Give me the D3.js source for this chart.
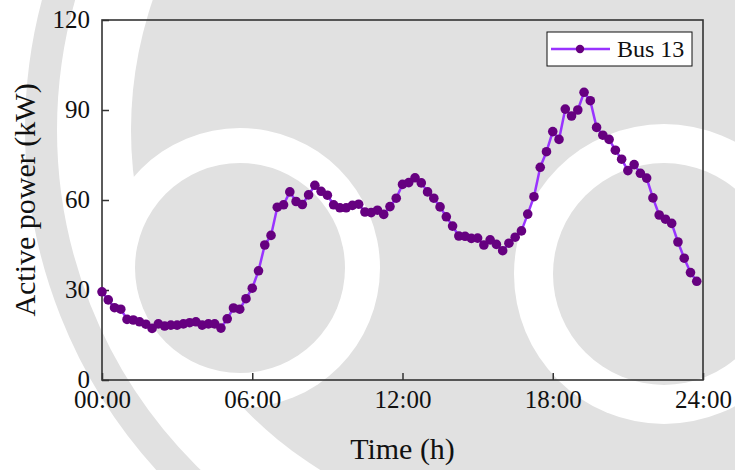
<!DOCTYPE html>
<html>
<head>
<meta charset="utf-8">
<script src="https://cdn.jsdelivr.net/npm/d3@7"></script>
<style>
  html, body { margin: 0; padding: 0; background: #fff; }
  svg { display: block; }
</style>
</head>
<body>
<svg id="chart" width="735" height="470"></svg>
<script>
// 15-minute samples of active power at bus 13 over one day
const seriesName = "Bus 13";
const stepHours = 0.25;
const busPower = [
  29.4, 26.7, 24.1, 23.6, 20.2, 20.0, 19.4, 18.6,
  17.2, 18.7, 18.0, 18.3, 18.3, 18.7, 19.1, 19.4,
  18.3, 18.7, 18.7, 17.3, 20.4, 24.0, 23.6, 27.1,
  30.6, 36.4, 45.0, 48.2, 57.6, 58.4, 62.7, 59.5,
  58.5, 61.7, 64.9, 62.9, 61.6, 58.4, 57.4, 57.4,
  58.2, 58.6, 56.0, 55.8, 56.6, 55.2, 57.8, 60.6,
  65.2, 65.8, 67.4, 65.7, 62.7, 60.6, 57.7, 54.4,
  51.3, 48.0, 47.9, 47.2, 47.3, 45.0, 46.7, 45.2,
  43.1, 45.6, 47.6, 49.7, 55.3, 61.1, 70.9, 76.1,
  82.8, 80.2, 90.3, 88.0, 90.0, 95.9, 93.1, 84.2,
  81.6, 80.2, 76.6, 73.6, 69.8, 71.8, 68.9, 67.3,
  60.7, 55.0, 53.6, 52.2, 46.0, 40.6, 35.8, 32.9
];
const xTickHours = [0, 6, 12, 18, 24];
const xTickLabels = ["00:00", "06:00", "12:00", "18:00", "24:00"];
const yTicks = [0, 30, 60, 90, 120];
const xTitle = "Time (h)";
const yTitle = "Active power (kW)";

const W = 735, H = 470;
const margin = { top: 20, right: 32, bottom: 90, left: 102 };
const FONT = "'Liberation Serif', 'Times New Roman', serif";
const LINE_COLOR = "#9933ff";
const MARK_COLOR = "#660080";
const AXIS_COLOR = "#333";

const svg = d3.select("#chart");

// faint background emblem behind the chart
const bg = svg.append("g").attr("class", "emblem");
const GRAY = "#e1e1e1";
bg.append("rect").attr("width", W).attr("height", H).attr("fill", "#fff");
bg.append("circle").attr("cx", 531).attr("cy", 130).attr("r", 490)
  .attr("fill", "none").attr("stroke", GRAY).attr("stroke-width", 32);
bg.append("circle").attr("cx", 531).attr("cy", 130).attr("r", 400).attr("fill", GRAY);
bg.append("circle").attr("cx", 240).attr("cy", 268).attr("r", 140).attr("fill", "#fff");
bg.append("circle").attr("cx", 240).attr("cy", 268).attr("r", 105).attr("fill", GRAY);
bg.append("circle").attr("cx", 664).attr("cy", 274).attr("r", 150).attr("fill", "#fff");
bg.append("circle").attr("cx", 664).attr("cy", 274).attr("r", 111).attr("fill", GRAY);

const x = d3.scaleLinear().domain([0, 24]).range([margin.left, W - margin.right]);
const y = d3.scaleLinear().domain([0, 120]).range([H - margin.bottom, margin.top]);

const points = busPower.map((v, i) => ({ t: i * stepHours, v }));

// axes with inward ticks
const xAxis = d3.axisBottom(x)
  .tickValues(xTickHours)
  .tickFormat((d, i) => xTickLabels[i])
  .tickSizeInner(-7).tickSizeOuter(0).tickPadding(10);
const yAxis = d3.axisLeft(y)
  .tickValues(yTicks)
  .tickFormat(d3.format("d"))
  .tickSizeInner(-7).tickSizeOuter(0).tickPadding(12);

const gx = svg.append("g")
  .attr("transform", `translate(0,${H - margin.bottom})`)
  .call(xAxis);
const gy = svg.append("g")
  .attr("transform", `translate(${margin.left},0)`)
  .call(yAxis);

[gx, gy].forEach(g => {
  g.select(".domain").remove();
  g.selectAll(".tick line").attr("stroke", AXIS_COLOR).attr("stroke-width", 1.5);
  g.selectAll(".tick text")
    .attr("fill", "#111")
    .style("font-family", FONT)
    .style("font-size", "25px");
});
gy.selectAll(".tick text").attr("dy", "0.3em");

// plot frame
svg.append("rect")
  .attr("x", margin.left).attr("y", margin.top)
  .attr("width", W - margin.left - margin.right)
  .attr("height", H - margin.top - margin.bottom)
  .attr("fill", "none")
  .attr("stroke", AXIS_COLOR)
  .attr("stroke-width", 1.6);

// series line and markers
const line = d3.line().x(d => x(d.t)).y(d => y(d.v));
svg.append("path")
  .datum(points)
  .attr("d", line)
  .attr("fill", "none")
  .attr("stroke", LINE_COLOR)
  .attr("stroke-width", 2.5)
  .attr("stroke-linejoin", "round");

svg.append("g").selectAll("circle")
  .data(points)
  .join("circle")
  .attr("cx", d => x(d.t))
  .attr("cy", d => y(d.v))
  .attr("r", 4.8)
  .attr("fill", MARK_COLOR);

// axis titles
svg.append("text")
  .attr("x", (margin.left + W - margin.right) / 2)
  .attr("y", 459)
  .attr("text-anchor", "middle")
  .style("font-family", FONT)
  .style("font-size", "30px")
  .attr("fill", "#111")
  .text(xTitle);

svg.append("text")
  .attr("transform", `translate(35,${(margin.top + H - margin.bottom) / 2}) rotate(-90)`)
  .attr("text-anchor", "middle")
  .style("font-family", FONT)
  .style("font-size", "30px")
  .attr("fill", "#111")
  .text(yTitle);

// legend
const lg = svg.append("g").attr("transform", "translate(547,32)");
lg.append("rect")
  .attr("width", 145).attr("height", 34)
  .attr("fill", "#fff").attr("stroke", "#111").attr("stroke-width", 1);
lg.append("line")
  .attr("x1", 4).attr("x2", 63).attr("y1", 17).attr("y2", 17)
  .attr("stroke", LINE_COLOR).attr("stroke-width", 2.5);
lg.append("circle").attr("cx", 33).attr("cy", 17).attr("r", 4.2).attr("fill", MARK_COLOR);
lg.append("text")
  .attr("x", 70).attr("y", 25)
  .style("font-family", FONT)
  .style("font-size", "24px")
  .attr("fill", "#111")
  .text(seriesName);
</script>
</body>
</html>
